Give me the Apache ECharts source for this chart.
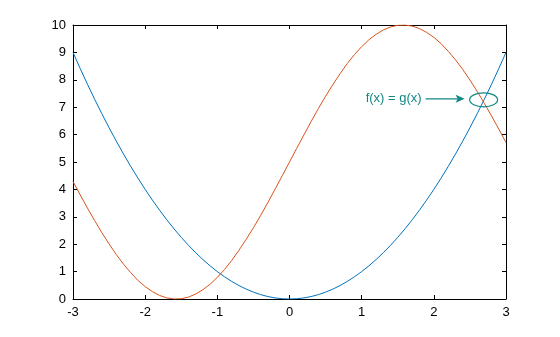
<!DOCTYPE html>
<html>
<head>
<meta charset="utf-8">
<script src="https://cdn.jsdelivr.net/npm/echarts@6/dist/echarts.min.js"></script>
<style>html,body{margin:0;padding:0;background:#fff}#c{width:560px;height:337px}</style>
</head>
<body>
<div id="c"></div>
<script>
var xs = [-3.0,-2.9,-2.8,-2.7,-2.6,-2.5,-2.4,-2.3,-2.2,-2.1,-2.0,-1.9,-1.8,-1.7,-1.6,-1.5,-1.4,-1.3,-1.2,-1.1,-1.0,-0.9,-0.8,-0.7,-0.6,-0.5,-0.4,-0.3,-0.2,-0.1,0.0,0.1,0.2,0.3,0.4,0.5,0.6,0.7,0.8,0.9,1.0,1.1,1.2,1.3,1.4,1.5,1.6,1.7,1.8,1.9,2.0,2.1,2.2,2.3,2.4,2.5,2.6,2.7,2.8,2.9,3.0];
var fVals = [9.00,8.41,7.84,7.29,6.76,6.25,5.76,5.29,4.84,4.41,4.00,3.61,3.24,2.89,2.56,2.25,1.96,1.69,1.44,1.21,1.00,0.81,0.64,0.49,0.36,0.25,0.16,0.09,0.04,0.01,0.00,0.01,0.04,0.09,0.16,0.25,0.36,0.49,0.64,0.81,1.00,1.21,1.44,1.69,1.96,2.25,2.56,2.89,3.24,3.61,4.00,4.41,4.84,5.29,5.76,6.25,6.76,7.29,7.84,8.41,9.00];
var gVals = [4.29,3.80,3.32,2.86,2.42,2.01,1.62,1.27,0.96,0.68,0.45,0.27,0.13,0.04,0.00,0.01,0.07,0.18,0.34,0.54,0.79,1.08,1.41,1.78,2.18,2.60,3.05,3.52,4.01,4.50,5.00,5.50,5.99,6.48,6.95,7.40,7.82,8.22,8.59,8.92,9.21,9.46,9.66,9.82,9.93,9.99,10.00,9.96,9.87,9.73,9.55,9.32,9.04,8.73,8.38,7.99,7.58,7.14,6.68,6.20,5.71];
var xTicks = [-3,-2,-1,0,1,2,3];
var yTicks = [0,1,2,3,4,5,6,7,8,9,10];
var annotText = 'f(x) = g(x)';
var annotPoint = [2.69, 7.27];

var font = '"Liberation Sans", Arial, Helvetica, sans-serif';
var teal = '#108884';
var chart = echarts.init(document.getElementById('c'), null, {renderer: 'canvas'});

function pairs(ys) { return xs.map(function (x, i) { return [x, ys[i]]; }); }

var tickCommon = {show: true, inside: true, length: 4, lineStyle: {color: '#000', width: 1}};
var lineCommon = {show: true, onZero: false, lineStyle: {color: '#000', width: 1}};

chart.setOption({
  animation: false,
  grid: {left: 73, top: 25, width: 433, height: 274, show: false},
  xAxis: [
    {type: 'value', min: -3, max: 3, interval: 1, position: 'bottom',
     axisLine: lineCommon, axisTick: tickCommon, splitLine: {show: false},
     axisLabel: {color: '#000', fontSize: 13, fontFamily: font, margin: 7,
       formatter: function (v) { return xTicks.indexOf(v) >= 0 ? String(v) : ''; }}},
    {type: 'value', min: -3, max: 3, interval: 1, position: 'top',
     axisLine: lineCommon, axisTick: tickCommon, splitLine: {show: false}, axisLabel: {show: false}}
  ],
  yAxis: [
    {type: 'value', min: 0, max: 10, interval: 1, position: 'left',
     axisLine: lineCommon, axisTick: tickCommon, splitLine: {show: false},
     axisLabel: {color: '#000', fontSize: 13, fontFamily: font, margin: 7,
       formatter: function (v) { return yTicks.indexOf(v) >= 0 ? String(v) : ''; }}},
    {type: 'value', min: 0, max: 10, interval: 1, position: 'right',
     axisLine: lineCommon, axisTick: tickCommon, splitLine: {show: false}, axisLabel: {show: false}}
  ],
  series: [
    {type: 'line', data: pairs(fVals), showSymbol: false, smooth: false,
     lineStyle: {color: '#0072BD', width: 1}, itemStyle: {color: '#0072BD'}},
    {type: 'line', data: pairs(gVals), showSymbol: false, smooth: false,
     lineStyle: {color: '#D95319', width: 1}, itemStyle: {color: '#D95319'}}
  ]
});

var p = chart.convertToPixel({xAxisIndex: 0, yAxisIndex: 0}, annotPoint);
var cx = p[0], cy = p[1];
chart.setOption({
  graphic: [
    {type: 'ellipse', shape: {cx: cx, cy: cy, rx: 14, ry: 7}, style: {fill: 'none', stroke: teal, lineWidth: 1.2}, z: 100},
    {type: 'line', shape: {x1: cx - 58, y1: cy - 1, x2: cx - 26, y2: cy - 1}, style: {stroke: teal, lineWidth: 1.2}, z: 100},
    {type: 'polygon', shape: {points: [[cx - 19, cy - 1], [cx - 28, cy - 5], [cx - 26, cy - 1], [cx - 28, cy + 3]]}, style: {fill: teal}, z: 100},
    {type: 'text', x: cx - 62, y: cy - 1, style: {text: annotText, fill: teal, font: '13px ' + font, textAlign: 'right', textVerticalAlign: 'middle'}, z: 100}
  ]
});
</script>
</body>
</html>
